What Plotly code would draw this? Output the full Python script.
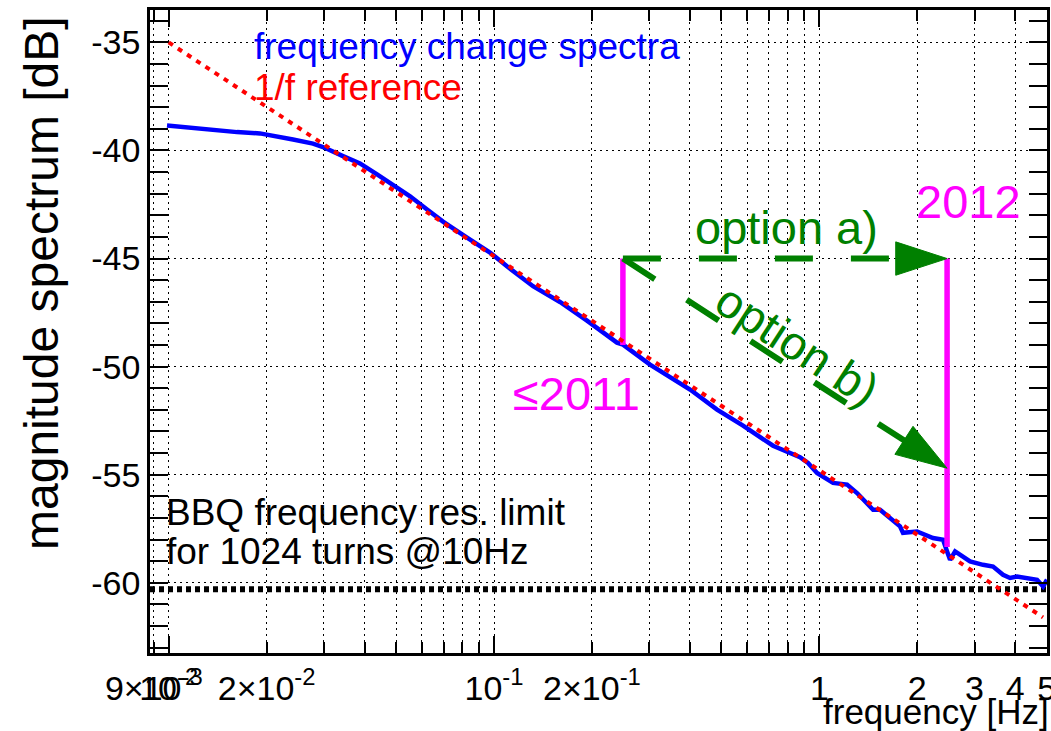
import math
import plotly.graph_objects as go

# ---------------- data ----------------
blue_freq = [0.00988, 0.01163, 0.01368, 0.01622, 0.01908, 0.02092, 0.02411, 0.02777, 0.02981,
             0.03433, 0.03873, 0.04370, 0.04893, 0.05520, 0.06227, 0.06969, 0.08260, 0.09721,
             0.1096, 0.1318, 0.1595, 0.1931, 0.2388, 0.2492, 0.3017, 0.4005, 0.4848, 0.5827,
             0.7206, 0.8723, 0.9231, 0.9839, 1.102, 1.217, 1.306, 1.463, 1.537, 1.650, 1.770,
             1.808, 1.997, 2.236, 2.401, 2.470, 2.523, 2.614, 2.766, 2.906, 3.186, 3.420,
             3.670, 3.856, 4.052, 4.351, 4.670, 4.873, 5.010]
blue_db = [-38.84, -38.95, -39.06, -39.15, -39.21, -39.34, -39.49, -39.68, -39.84,
           -40.26, -40.60, -41.11, -41.62, -42.12, -42.73, -43.29, -44.03, -44.72,
           -45.36, -46.28, -47.01, -47.87, -48.89, -48.98, -49.91, -51.06, -51.99, -52.73,
           -53.66, -54.19, -54.46, -54.92, -55.38, -55.46, -55.85, -56.62, -56.62, -57.00, -57.39,
           -57.69, -57.63, -57.93, -58.01, -58.55, -58.94, -58.55, -58.78, -59.01, -59.17, -59.25,
           -59.63, -59.78, -59.71, -59.78, -59.86, -60.17, -59.86]

ref_freq = [0.01, 4.87]
ref_db = [-35.0, -61.6]

limit_db = -60.3
x_range_freq = [0.00876, 5.01]
y_range_db = [-63.25, -33.5]

old_f, new_f = 0.249, 2.47
old_top, old_bottom = -45.0, -49.0
new_top, new_bottom = -45.0, -58.35
option_b_end_db = -54.7

# labelled x ticks
x_label_vals = [0.009, 0.01, 0.02, 0.1, 0.2, 1, 2, 3, 4, 5]
x_label_text = ["9×10<sup>-3</sup>", "10<sup>-2</sup>", "2×10<sup>-2</sup>",
                "10<sup>-1</sup>", "2×10<sup>-1</sup>", "1", "2", "3", "4", "5"]
# long (decade) and short tick marks
x_decade_vals = [0.01, 0.1, 1]
x_short_vals = [0.009, 0.02, 0.03, 0.04, 0.05, 0.06, 0.07, 0.08, 0.09,
                0.2, 0.3, 0.4, 0.5, 0.6, 0.7, 0.8, 0.9, 2, 3, 4, 5]
y_tick_vals = [-60, -55, -50, -45, -40, -35]
y_tick_text = ["-60", "-55", "-50", "-45", "-40", "-35"]

FONT = "Liberation Sans, Arial, Helvetica, sans-serif"
GREEN = "#008000"
MAGENTA = "#ff00ff"
GRID = dict(gridcolor="black", gridwidth=1.3, griddash="2px,4px")
TICKFONT = dict(family=FONT, size=34, color="black")

fig = go.Figure()

# BBQ resolution limit
fig.add_trace(go.Scatter(x=x_range_freq, y=[limit_db, limit_db], mode="lines",
                         line=dict(color="black", width=6, dash="5px,4px"),
                         hoverinfo="skip"))
# spectra
fig.add_trace(go.Scatter(x=blue_freq, y=blue_db, mode="lines",
                         line=dict(color="#0000ff", width=4.5)))
# 1/f reference (on the overlay tick axis, same range)
fig.add_trace(go.Scatter(x=ref_freq, y=ref_db, mode="lines", xaxis="x2",
                         line=dict(color="#ff0000", width=4, dash="5px,6px")))
# magenta markers
fig.add_trace(go.Scatter(x=[old_f, old_f], y=[old_top, old_bottom], mode="lines",
                         line=dict(color=MAGENTA, width=5.5)))
fig.add_trace(go.Scatter(x=[new_f, new_f], y=[new_top, new_bottom], mode="lines",
                         line=dict(color=MAGENTA, width=5.5)))
# green dashed arrows
for ye in [new_top, option_b_end_db]:
    fig.add_trace(go.Scatter(x=[old_f, new_f], y=[old_top, ye], mode="lines+markers",
                             line=dict(color=GREEN, width=6, dash="38px,38px"),
                             marker=dict(symbol="arrow", size=[0, 54], color=GREEN, opacity=1,
                                         angleref="previous", line=dict(width=1, color=GREEN))))

lg = math.log10
ann = [
    dict(x=lg(0.01803), y=-35.19, text="frequency change spectra", color="#0000ff", size=37, xanchor="left"),
    dict(x=lg(0.01803), y=-37.08, text="1/f reference", color="#ff0000", size=37, xanchor="left"),
    dict(x=lg(0.00967), y=-56.76, text="BBQ frequency res. limit", color="black", size=37, xanchor="left"),
    dict(x=lg(0.00967), y=-58.56, text="for 1024 turns @10Hz", color="black", size=37, xanchor="left"),
    dict(x=lg(2.865), y=-42.36, text="2012", color=MAGENTA, size=47, xanchor="center"),
    dict(x=lg(0.1787), y=-51.25, text="≤2011", color=MAGENTA, size=47, xanchor="center"),
    dict(x=lg(0.7927), y=-43.56, text="option a)", color=GREEN, size=47, xanchor="center"),
]
for a in ann:
    fig.add_annotation(x=a["x"], y=a["y"], xref="x", yref="y", text=a["text"], showarrow=False,
                       xanchor=a["xanchor"], yanchor="middle",
                       font=dict(family=FONT, size=a["size"], color=a["color"]))
fig.add_annotation(x=lg(0.8541), y=-48.98, xref="x", yref="y", text="option b)", showarrow=False,
                   textangle=33, font=dict(family=FONT, size=47, color=GREEN))
# axis titles
fig.add_annotation(x=1.004, y=-0.0905, xref="paper", yref="paper", text="frequency [Hz]",
                   showarrow=False, xanchor="right", yanchor="middle",
                   font=dict(family=FONT, size=35, color="black"))
fig.add_annotation(x=-0.1204, y=0.9938, xref="paper", yref="paper", text="magnitude spectrum [dB]",
                   showarrow=False, textangle=-90, xanchor="center", yanchor="top",
                   font=dict(family=FONT, size=48, color="black"))

lo, hi = lg(x_range_freq[0]), lg(x_range_freq[1])

fig.update_layout(
    # labels + grid at labelled positions (tick marks drawn by xaxis2)
    xaxis=dict(type="log", range=[lo, hi], tickangle=0, automargin=False,
               tickmode="array", tickvals=x_label_vals, ticktext=x_label_text,
               ticks="inside", ticklen=17, tickwidth=2, tickcolor="rgba(0,0,0,0)",
               ticklabelstandoff=3, ticklabeloverflow="allow", tickfont=TICKFONT,
               showline=True, linewidth=2.5, linecolor="black", mirror=True,
               showgrid=True, **GRID, zeroline=False),
    # tick marks: long at decades, short elsewhere (with grid)
    xaxis2=dict(type="log", range=[lo, hi], overlaying="x", anchor="y", side="bottom",
                automargin=False, showticklabels=False, showline=False, zeroline=False,
                tickmode="array", tickvals=x_decade_vals, ticks="inside", ticklen=17,
                tickwidth=2, tickcolor="black", mirror="allticks", showgrid=True, **GRID,
                minor=dict(tickmode="array", tickvals=x_short_vals, ticks="inside", ticklen=11,
                           tickwidth=2, tickcolor="black", showgrid=True, **GRID)),
    yaxis=dict(range=y_range_db, tickmode="array", tickvals=y_tick_vals, ticktext=y_tick_text,
               automargin=False, ticks="inside", ticklen=18, tickwidth=2, tickcolor="black",
               minor=dict(dtick=1, tick0=0, ticks="inside", ticklen=10, tickwidth=1.5,
                          tickcolor="black", showgrid=False),
               showline=True, linewidth=2.5, linecolor="black", mirror="allticks",
               showgrid=True, **GRID, zeroline=False, tickfont=TICKFONT),
    width=1051, height=731, showlegend=False,
    margin=dict(l=150, r=4, t=10, b=78),
    plot_bgcolor="white", paper_bgcolor="white",
)

fig.write_html("out.html")
